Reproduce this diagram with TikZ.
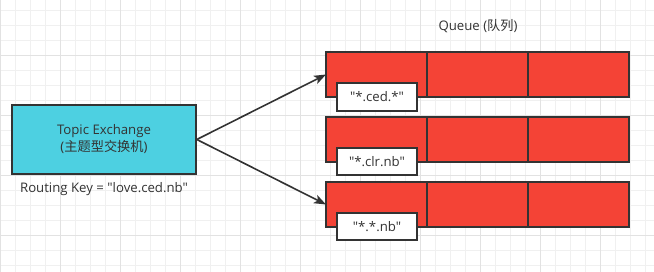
\documentclass[tikz,border=0pt]{standalone}
\usepackage{fontspec}
\setmainfont{Open Sans}[Ligatures=TeXOff]
\newfontfamily\cjk{Noto Sans CJK SC}
\usetikzlibrary{arrows.meta,positioning}
\definecolor{gridMinor}{RGB}{240,240,240}
\definecolor{gridMajor}{RGB}{226,226,226}
\definecolor{exchCyan}{RGB}{77,208,225}
\definecolor{queueRed}{RGB}{244,67,54}
\definecolor{inkGray}{RGB}{51,51,51}
\begin{document}
\begin{tikzpicture}[x=1pt, y=-1pt, every node/.style={font=\fontsize{13.2}{17}\selectfont, text=inkGray},
  cellbox/.style={draw=inkGray, line width=1.6pt, fill=queueRed, minimum width=101pt, minimum height=45pt, inner sep=0pt, outer sep=0pt},
  keybox/.style={draw=inkGray, line width=1.6pt, fill=white, minimum width=80pt, minimum height=27.5pt, inner sep=0pt}]
  % Background grid
  \fill[white] (0,0) rectangle (654,272);
  \useasboundingbox (0,0) rectangle (654,272);
  \foreach \x in {0,15,...,645} \draw[gridMinor, line width=0.8pt] (\x,0) -- (\x,272);
  \foreach \y in {10,25,...,270} \draw[gridMinor, line width=0.8pt] (0,\y) -- (654,\y);
  \foreach \x in {0,60,...,600} \draw[gridMajor, line width=0.8pt] (\x,0) -- (\x,272);
  \foreach \y in {55,115,175,235} \draw[gridMajor, line width=0.8pt] (0,\y) -- (654,\y);
  % Exchange
  \node[draw=inkGray, line width=1.6pt, fill=exchCyan, minimum width=184pt, minimum height=69pt, align=center]
    (exch) at (104,139.5) {Topic Exchange\\({\cjk 主题型交换机})};
  \node (rkey) at (104,189) {Routing Key = "love.ced.nb"};
  % Queues
  \node (qtitle) at (478,26) {Queue ({\cjk 队列})};
  \node[cellbox] (q1a) at (376.5,74.5) {};
  \node[cellbox, right=0pt of q1a] (q1b) {};
  \node[cellbox, right=0pt of q1b] (q1c) {};
  \node[cellbox] (q2a) at (376.5,139.5) {};
  \node[cellbox, right=0pt of q2a] (q2b) {};
  \node[cellbox, right=0pt of q2b] (q2c) {};
  \node[cellbox] (q3a) at (376.5,204.5) {};
  \node[cellbox, right=0pt of q3a] (q3b) {};
  \node[cellbox, right=0pt of q3b] (q3c) {};
  % Binding keys
  \node[keybox] (k1) at (377,97) {"*.ced.*"};
  \node[keybox] (k2) at (377,161.5) {"*.clr.nb"};
  \node[keybox] (k3) at (377,226.5) {"*.*.nb"};
  % Arrows
  \draw[inkGray, line width=1.6pt, -{Stealth[length=12pt, width=9pt, inset=3pt]}] (exch.east) -- (q1a.west);
  \draw[inkGray, line width=1.6pt, -{Stealth[length=12pt, width=9pt, inset=3pt]}] (exch.east) -- (q3a.west);
\end{tikzpicture}
\end{document}
